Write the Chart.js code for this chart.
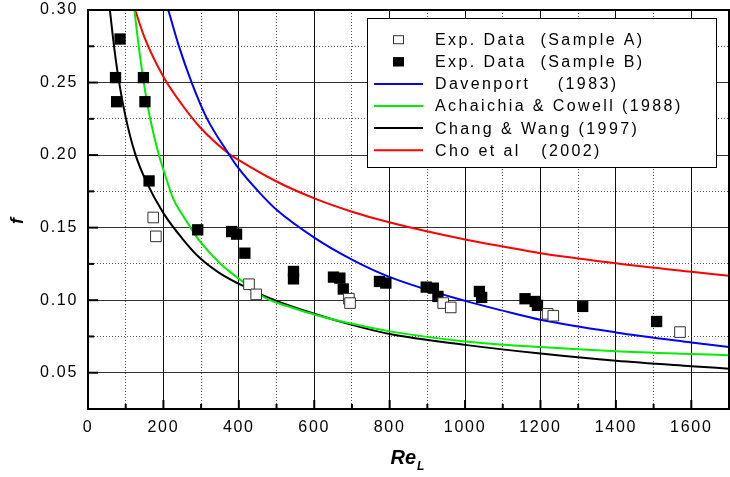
<!DOCTYPE html>
<html>
<head>
<meta charset="utf-8">
<script src="https://cdn.jsdelivr.net/npm/chart.js@4.4.1/dist/chart.umd.min.js"></script>
<style>
  html, body { margin: 0; padding: 0; background: #fff; }
</style>
</head>
<body>
<canvas id="chart" width="730" height="477"></canvas>
<script>
// Measured friction factors
const reA = [173, 180, 427, 446, 692, 695, 942, 962, 1219, 1234, 1570];
const fA  = [0.157, 0.144, 0.111, 0.104, 0.101, 0.098, 0.098, 0.095, 0.0906, 0.0893, 0.078];

const reB = [85, 73, 147, 76, 151, 162, 291, 381, 394, 416, 545, 545, 651, 668, 677,
             773, 790, 897, 916, 928, 1038, 1044, 1159, 1186, 1192, 1312, 1508];
const fB  = [0.280, 0.2534, 0.2534, 0.2368, 0.2368, 0.1822, 0.1485, 0.1473, 0.1455, 0.1324,
             0.1198, 0.1147, 0.1159, 0.1152, 0.1077, 0.1129, 0.1118, 0.109, 0.1083, 0.1026,
             0.106, 0.1019, 0.101, 0.0991, 0.0964, 0.0957, 0.0853];

// Correlation curves, sampled along Re_L
const reDav = [213, 240, 275, 315, 372, 399, 456, 500, 602, 700, 801, 1000, 1100, 1200, 1400, 1600, 1700];
const fDav  = [0.300, 0.276, 0.250, 0.2255, 0.2013, 0.191, 0.1738, 0.1623, 0.1428, 0.128, 0.1159,
               0.0995, 0.0928, 0.0865, 0.0778, 0.0709, 0.0677];

const reAch = [123, 135, 148, 165, 188, 200, 226, 250, 272, 297, 350, 430, 474, 540, 602, 700, 801,
               1000, 1200, 1400, 1600, 1700];
const fAch  = [0.300, 0.274, 0.250, 0.225, 0.200, 0.190, 0.170, 0.159, 0.150, 0.1405, 0.1255, 0.109,
               0.101, 0.095, 0.090, 0.0837, 0.0785, 0.0716, 0.0677, 0.0648, 0.0629, 0.0621];

const reChang = [58, 70, 82, 100, 125, 154, 200, 250, 297, 350, 430, 500, 602, 700, 800,
                 1000, 1200, 1400, 1600, 1700];
const fChang  = [0.300, 0.273, 0.251, 0.226, 0.201, 0.182, 0.160, 0.1425, 0.129, 0.1185, 0.1075,
                 0.0995, 0.0905, 0.083, 0.0767, 0.0692, 0.0632, 0.0582, 0.0545, 0.0528];

const reCho = [125, 150, 200, 250, 297, 372, 399, 500, 602, 700, 801, 1000, 1100, 1200, 1400, 1600, 1700];
const fCho  = [0.300, 0.281, 0.254, 0.2345, 0.2192, 0.2013, 0.1967, 0.1818, 0.170, 0.161, 0.1535,
               0.1418, 0.137, 0.1324, 0.1255, 0.1196, 0.1168];

const xTicks = { min: 0, max: 1700, step: 100, labelEvery: 200 };
const yTicks = { min: 0.025, max: 0.30, step: 0.025, labelEvery: 0.05 };

const seriesLabels = [
  'Exp. Data  (Sample A)',
  'Exp. Data  (Sample B)',
  'Davenport    (1983)',
  'Achaichia & Cowell (1988)',
  'Chang & Wang (1997)',
  'Cho et al   (2002)'
];

const FONT = '"Liberation Sans", Arial, Helvetica, sans-serif';

const toPoints = (xs, ys) => xs.map((x, i) => ({ x: x, y: ys[i] }));

function curve(label, xs, ys, color) {
  return {
    label: label,
    data: toPoints(xs, ys),
    showLine: true,
    borderColor: color,
    backgroundColor: color,
    borderWidth: 2,
    pointRadius: 0,
    cubicInterpolationMode: 'monotone',
    fill: false
  };
}

const isMajorX = v => Math.round(v) % xTicks.labelEvery === 0;
const isMajorY = v => Math.round(v / yTicks.step) % 2 === 0;

// frame, inward ticks, axis titles and the boxed legend
const decor = {
  id: 'decor',
  beforeDraw(chart) {
    chart.ctx.letterSpacing = '1.7px';
  },
  afterDatasetsDraw(chart) {
    const { ctx, chartArea: a, scales } = chart;
    const x = scales.x, y = scales.y;
    ctx.save();
    ctx.strokeStyle = '#000';
    ctx.lineWidth = 2;
    x.ticks.forEach(t => {
      const px = x.getPixelForValue(t.value);
      const len = isMajorX(t.value) ? 9 : 5;
      ctx.beginPath();
      ctx.moveTo(px, a.bottom);
      ctx.lineTo(px, a.bottom - len);
      ctx.stroke();
    });
    y.ticks.forEach(t => {
      const py = y.getPixelForValue(t.value);
      const len = isMajorY(t.value) ? 10 : 6;
      ctx.beginPath();
      ctx.moveTo(a.left, py);
      ctx.lineTo(a.left + len, py);
      ctx.stroke();
    });
    ctx.strokeRect(a.left, a.top, a.right - a.left, a.bottom - a.top);
    ctx.restore();
  },
  afterDraw(chart) {
    const { ctx, chartArea: a } = chart;
    ctx.save();
    ctx.letterSpacing = '0px';
    ctx.fillStyle = '#000';

    // x title: Re with subscript L
    const cx = (a.left + a.right) / 2;
    ctx.font = 'italic bold 20px ' + FONT;
    const w1 = ctx.measureText('Re').width;
    ctx.textAlign = 'left';
    ctx.textBaseline = 'alphabetic';
    ctx.fillText('Re', cx - 18, 463.5);
    ctx.font = 'italic bold 12px ' + FONT;
    ctx.fillText('L', cx - 18 + w1 + 1, 470);

    // y title
    ctx.save();
    ctx.translate(23, 221);
    ctx.rotate(-Math.PI / 2);
    ctx.font = 'italic bold 18px ' + FONT;
    ctx.textAlign = 'center';
    ctx.fillText('f', 0, 0);
    ctx.restore();

    // legend
    const box = { left: 367, top: 18, width: 349, height: 149 };
    ctx.fillStyle = '#fff';
    ctx.fillRect(box.left, box.top, box.width, box.height);
    ctx.strokeStyle = '#000';
    ctx.lineWidth = 1;
    ctx.strokeRect(box.left + 0.5, box.top + 0.5, box.width, box.height);

    ctx.font = '16px ' + FONT;
    ctx.letterSpacing = '2.4px';
    ctx.textBaseline = 'middle';
    chart.data.datasets.forEach((ds, i) => {
      const cy = 39.7 + i * 22.1;
      if (ds.showLine) {
        ctx.strokeStyle = ds.borderColor;
        ctx.lineWidth = 2;
        ctx.beginPath();
        ctx.moveTo(374, cy);
        ctx.lineTo(423, cy);
        ctx.stroke();
      } else {
        ctx.fillStyle = ds.backgroundColor;
        ctx.fillRect(393, cy - 4.5, 11, 9);
        ctx.strokeStyle = ds.borderColor;
        ctx.lineWidth = 1;
        ctx.strokeRect(393.5, cy - 4, 10, 8);
      }
      ctx.fillStyle = '#000';
      ctx.fillText(ds.label, 435, cy + 1);
    });
    ctx.restore();
  }
};

new Chart(document.getElementById('chart'), {
  type: 'scatter',
  data: {
    datasets: [
      {
        label: seriesLabels[0],
        data: toPoints(reA, fA),
        pointStyle: 'rect',
        pointRadius: 7.5,
        backgroundColor: '#fff',
        borderColor: '#333',
        borderWidth: 1
      },
      {
        label: seriesLabels[1],
        data: toPoints(reB, fB),
        pointStyle: 'rect',
        pointRadius: 8,
        backgroundColor: '#000',
        borderColor: '#000',
        borderWidth: 0
      },
      curve(seriesLabels[2], reDav, fDav, '#0000ff'),
      curve(seriesLabels[3], reAch, fAch, '#00ee00'),
      curve(seriesLabels[4], reChang, fChang, '#000000'),
      curve(seriesLabels[5], reCho, fCho, '#ff0000')
    ]
  },
  options: {
    responsive: false,
    animation: false,
    events: [],
    layout: { autoPadding: false, padding: { top: 10, right: 1, left: 0, bottom: 0 } },
    plugins: {
      legend: { display: false },
      tooltip: { enabled: false }
    },
    scales: {
      x: {
        type: 'linear',
        min: xTicks.min,
        max: xTicks.max,
        afterFit(scale) {
          scale.height = 68;
          scale.paddingLeft = 0;
          scale.paddingRight = 0;
        },
        ticks: {
          stepSize: xTicks.step,
          autoSkip: false,
          maxRotation: 0,
          padding: 9,
          color: '#000',
          font: { family: FONT, size: 16 },
          callback: v => isMajorX(v) ? String(v) : ''
        },
        grid: {
          drawTicks: false,
          lineWidth: 1,
          color: c => (c.tick && isMajorX(c.tick.value)) ? '#111' : '#555'
        },
        border: {
          display: false,
          dash: c => (c.tick && isMajorX(c.tick.value)) ? [] : [1, 2]
        }
      },
      y: {
        type: 'linear',
        min: yTicks.min,
        max: yTicks.max,
        afterFit(scale) {
          scale.width = 88;
          scale.paddingTop = 0;
          scale.paddingBottom = 0;
        },
        ticks: {
          stepSize: yTicks.step,
          autoSkip: false,
          padding: 10,
          color: '#000',
          font: { family: FONT, size: 16 },
          callback: v => isMajorY(v) ? v.toFixed(2) : ''
        },
        grid: {
          drawTicks: false,
          lineWidth: 1,
          color: c => (c.tick && isMajorY(c.tick.value)) ? '#333' : '#555'
        },
        border: {
          display: false,
          dash: c => (c.tick && isMajorY(c.tick.value)) ? [] : [1, 2]
        }
      }
    }
  },
  plugins: [decor]
});
</script>
</body>
</html>
